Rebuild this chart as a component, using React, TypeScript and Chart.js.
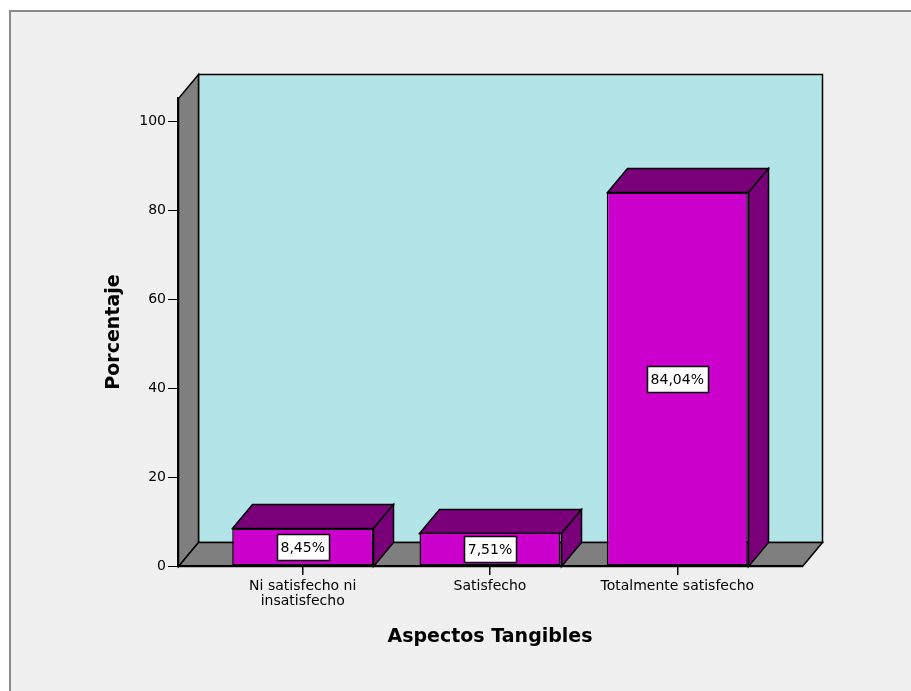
import React, { useEffect, useRef } from 'react';
import { Chart, registerables } from 'chart.js';

Chart.register(...registerables);

// ---- data ----
const categories: string[][] = [
  ['Ni satisfecho ni', 'insatisfecho'],
  ['Satisfecho'],
  ['Totalmente satisfecho'],
];
const percentages: number[] = [8.45, 7.51, 84.04];
const valueLabels: string[] = ['8,45%', '7,51%', '84,04%'];
const yTicks: number[] = [0, 20, 40, 60, 80, 100];
const xTitle = 'Aspectos Tangibles';
const yTitle = 'Porcentaje';

// ---- style ----
const W = 911;
const H = 691;
const DX = 20;
const DY = 24;
const FONT = 'DejaVu Sans';
const WALL_GRAY = '#7f7f7f';
const BACK_WALL = '#b3e5e8';
const BAR_FRONT = '#cc00cc';
const BAR_DARK = '#7a007a';

const poly = (ctx: CanvasRenderingContext2D, pts: number[][], fill: string, lw = 1.5) => {
  ctx.beginPath();
  ctx.moveTo(pts[0][0], pts[0][1]);
  for (let i = 1; i < pts.length; i++) ctx.lineTo(pts[i][0], pts[i][1]);
  ctx.closePath();
  ctx.fillStyle = fill;
  ctx.fill();
  ctx.lineWidth = lw;
  ctx.strokeStyle = '#000';
  ctx.lineJoin = 'miter';
  ctx.stroke();
};

const threeDPlugin = {
  id: 'threeD',
  beforeDraw(chart: any) {
    const { ctx, chartArea: a } = chart;
    ctx.save();
    ctx.fillStyle = '#ffffff';
    ctx.fillRect(0, 0, W, H);
    ctx.fillStyle = '#f0f0f0';
    ctx.fillRect(10, 11, W, H);
    ctx.strokeStyle = '#8a8a8a';
    ctx.lineWidth = 2;
    ctx.beginPath();
    ctx.moveTo(10, H);
    ctx.lineTo(10, 11);
    ctx.lineTo(W, 11);
    ctx.stroke();

    const L = Math.round(a.left) + 0.5;
    const R = Math.round(a.right) + 0.5;
    const T = Math.round(a.top) + 0.5;
    const B = Math.round(a.bottom) + 0.5;
    // back wall
    poly(ctx, [[L + DX, T - DY], [R + DX, T - DY], [R + DX, B - DY], [L + DX, B - DY]], BACK_WALL);
    // left wall
    poly(ctx, [[L, T], [L + DX, T - DY], [L + DX, B - DY], [L, B]], WALL_GRAY);
    // floor
    poly(ctx, [[L, B], [L + DX, B - DY], [R + DX, B - DY], [R, B]], WALL_GRAY);
    ctx.restore();
  },
  beforeDatasetsDraw(chart: any) {
    const { ctx } = chart;
    const meta = chart.getDatasetMeta(0);
    ctx.save();
    meta.data.forEach((bar: any) => {
      const p = bar.getProps(['x', 'y', 'base', 'width'], true);
      const x0 = Math.round(p.x - p.width / 2) + 0.5;
      const x1 = Math.round(p.x + p.width / 2) + 0.5;
      const top = Math.round(p.y) + 0.5;
      const base = Math.round(p.base) + 0.5;
      poly(ctx, [[x0, top], [x0 + DX, top - DY], [x1 + DX, top - DY], [x1, top]], BAR_DARK);
      poly(ctx, [[x1, top], [x1 + DX, top - DY], [x1 + DX, base - DY], [x1, base]], BAR_DARK);
    });
    ctx.restore();
  },
  afterDatasetsDraw(chart: any) {
    const { ctx } = chart;
    const meta = chart.getDatasetMeta(0);
    ctx.save();
    ctx.font = `14px "${FONT}"`;
    ctx.textAlign = 'center';
    ctx.textBaseline = 'middle';
    meta.data.forEach((bar: any, i: number) => {
      const p = bar.getProps(['x', 'y', 'base'], true);
      const txt = valueLabels[i];
      const tw = ctx.measureText(txt).width;
      const bw = Math.round(tw + 8);
      const bh = 26;
      const cx = p.x;
      const cy = (p.y + p.base) / 2;
      const bx = Math.round(cx - bw / 2) + 0.5;
      const by = Math.round(cy - bh / 2) + 0.5;
      ctx.fillStyle = '#ffffff';
      ctx.fillRect(bx, by, bw, bh);
      ctx.strokeStyle = '#000';
      ctx.lineWidth = 1.5;
      ctx.strokeRect(bx, by, bw, bh);
      ctx.fillStyle = '#000';
      ctx.fillText(txt, cx, cy + 1);
    });
    ctx.restore();
  },
};

export default function App() {
  const ref = useRef<HTMLCanvasElement | null>(null);

  useEffect(() => {
    const canvas = ref.current;
    if (!canvas) return;
    const chart = new Chart(canvas, {
      type: 'bar',
      data: {
        datasets: [
          {
            data: percentages.map((v, i) => ({ x: i, y: v })),
            backgroundColor: BAR_FRONT,
            borderColor: '#000',
            borderWidth: 1.5,
            borderSkipped: false,
            barPercentage: 0.753,
            categoryPercentage: 1,
          } as any,
        ],
      },
      options: {
        responsive: false,
        maintainAspectRatio: false,
        animation: false,
        devicePixelRatio: 1,
        layout: { padding: { left: 0, top: 98, right: 109, bottom: 0 } },
        plugins: {
          legend: { display: false },
          tooltip: { enabled: false },
        },
        scales: {
          x: {
            type: 'linear',
            min: -0.666,
            max: 2.666,
            offset: false,
            afterFit: (s: any) => {
              s.height = 125;
            },
            afterBuildTicks: (s: any) => {
              s.ticks = categories.map((_, i) => ({ value: i }));
            },
            ticks: {
              autoSkip: false,
              maxRotation: 0,
              minRotation: 0,
              padding: 4,
              color: '#000',
              font: { family: FONT, size: 14, lineHeight: '15px' },
              callback: (v: any) => categories[Number(v)] ?? '',
            },
            grid: { drawOnChartArea: false, drawTicks: true, tickLength: 9, color: '#000', offset: false, lineWidth: 1.5 },
            border: { display: true, color: '#000', width: 1.5 },
            title: {
              display: true,
              text: xTitle,
              color: '#000',
              font: { family: FONT, size: 19, weight: 'bold' },
              padding: { top: 0, bottom: 43 },
            },
          } as any,
          y: {
            type: 'linear',
            min: 0,
            max: 105.3,
            afterFit: (s: any) => {
              s.width = 178;
            },
            afterBuildTicks: (s: any) => {
              s.ticks = yTicks.map((v) => ({ value: v }));
            },
            ticks: {
              padding: 2,
              color: '#000',
              font: { family: FONT, size: 14 },
              callback: (v: any) => String(v),
            },
            grid: { drawOnChartArea: false, drawTicks: true, tickLength: 10, color: '#000', lineWidth: 1 },
            border: { display: true, color: '#000', width: 1.5 },
            title: {
              display: true,
              text: yTitle,
              color: '#000',
              font: { family: FONT, size: 19, weight: 'bold' },
              padding: { top: 103, bottom: 0 },
            },
          } as any,
        },
      },
      plugins: [threeDPlugin],
    });
    return () => chart.destroy();
  }, []);

  return (
    <div style={{ position: 'fixed', left: 0, top: 0, width: W, height: H }}>
      <canvas ref={ref} width={W} height={H} style={{ display: 'block', width: W, height: H }} />
    </div>
  );
}
